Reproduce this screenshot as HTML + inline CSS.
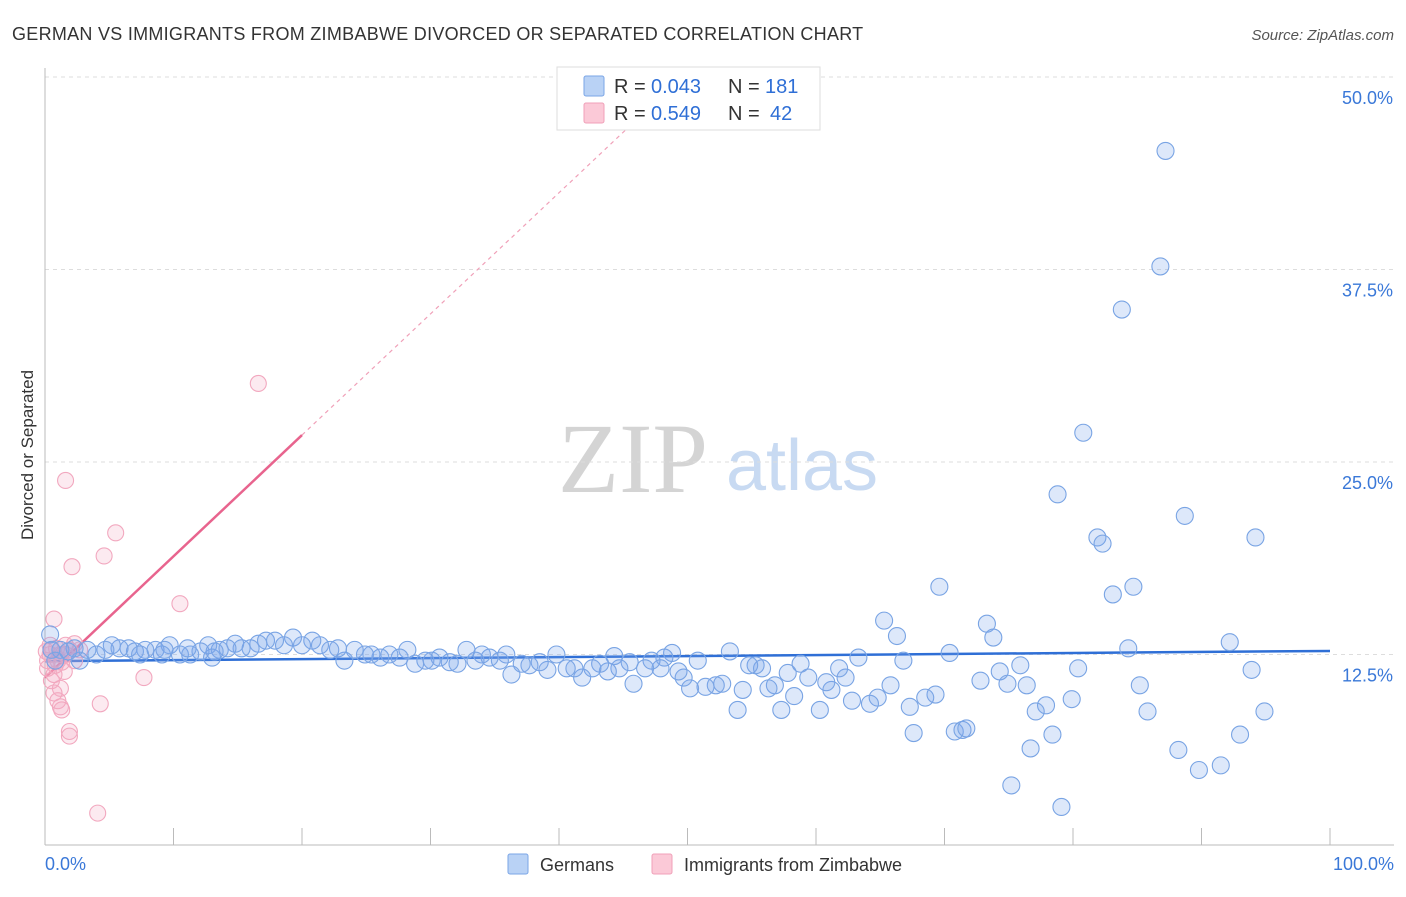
<!DOCTYPE html>
<html><head><meta charset="utf-8"><style>
body{margin:0;background:#fff;font-family:"Liberation Sans",sans-serif;}
</style></head><body>
<svg id="chart" width="1406" height="892" xmlns="http://www.w3.org/2000/svg" font-family="Liberation Sans, sans-serif">
<text x="12" y="40" font-size="18" fill="#333" letter-spacing="0.28">GERMAN VS IMMIGRANTS FROM ZIMBABWE DIVORCED OR SEPARATED CORRELATION CHART</text>
<text x="1394" y="40" font-size="15" fill="#555" text-anchor="end" font-style="italic">Source: ZipAtlas.com</text>
<text transform="translate(33,455) rotate(-90)" font-size="17" fill="#333" text-anchor="middle">Divorced or Separated</text>
<g>
<text x="633" y="492" font-size="100" fill="#d4d4d4" style="font-family:'Liberation Serif',serif" text-anchor="middle">ZIP</text>
<text x="802" y="490" font-size="72" fill="#c8daf2" text-anchor="middle">atlas</text>
</g>
<g id="grid"></g><g id="axes"></g><g id="trends"></g><g id="points"></g>
<g>
<rect x="557" y="67" width="263" height="63" fill="#fff" stroke="#ddd"/>
<rect x="584" y="76" width="20" height="20" fill="#b9d2f5" stroke="#7aa5e6" rx="2"/>
<rect x="584" y="103" width="20" height="20" fill="#fbc9d7" stroke="#f0a0b8" rx="2"/>
<text x="614" y="93" font-size="20" fill="#333">R =</text>
<text x="651" y="93" font-size="20" fill="#2f6fd6">0.043</text>
<text x="728" y="93" font-size="20" fill="#333">N =</text>
<text x="765" y="93" font-size="20" fill="#2f6fd6">181</text>
<text x="614" y="120" font-size="20" fill="#333">R =</text>
<text x="651" y="120" font-size="20" fill="#2f6fd6">0.549</text>
<text x="728" y="120" font-size="20" fill="#333">N =</text>
<text x="770" y="120" font-size="20" fill="#2f6fd6">42</text>
</g>
<g>
<rect x="508" y="854" width="20" height="20" fill="#b9d2f5" stroke="#7aa5e6" rx="2"/>
<text x="540" y="871" font-size="18" fill="#333">Germans</text>
<rect x="652" y="854" width="20" height="20" fill="#fbc9d7" stroke="#f0a0b8" rx="2"/>
<text x="684" y="871" font-size="18" fill="#333">Immigrants from Zimbabwe</text>
</g>
</svg>
<script>
const yTicks=[12.5,25,37.5,50];
const yTickLabels=["12.5%","25.0%","37.5%","50.0%"];
const xTicks=[0,10,20,30,40,50,60,70,80,90,100];
const germansX=[87.2,86.8,83.8,80.8,78.8,88.7,81.9,82.3,94.2,84.7,83.1,69.6,65.3,66.3,73.3,73.8,92.2,84.3,70.4,66.8,63.3,75.9,80.4,93.9,74.3,72.8,74.9,76.4,85.2,79.9,77.9,77.1,85.8,94.9,69.3,68.5,67.3,65.8,64.8,64.2,62.8,67.6,70.8,71.4,71.7,78.4,93.0,76.7,88.2,91.5,89.8,75.2,79.1,61.2,62.3,61.8,60.3,60.8,59.4,58.8,57.8,57.3,56.8,56.3,55.8,55.3,54.8,54.3,53.9,53.3,58.3,52.7,52.2,51.4,50.8,50.2,49.7,49.3,48.8,48.2,47.9,47.2,46.7,45.8,45.5,44.7,44.3,43.8,43.2,42.6,41.8,41.2,40.6,39.8,39.1,38.5,37.7,37.1,36.3,35.9,35.4,34.6,34.0,33.5,32.8,32.1,31.5,30.7,30.1,29.6,28.8,28.2,27.6,26.8,26.1,25.4,24.9,24.1,23.3,22.8,22.2,21.4,20.8,20.0,19.3,18.6,17.9,17.2,16.6,16.0,15.3,14.8,14.2,13.6,13.0,12.7,12.1,11.3,10.5,9.7,9.1,8.6,7.8,7.0,6.5,5.8,5.2,4.7,4.0,3.3,2.7,2.3,1.8,1.2,0.4,0.5,0.8,7.4,9.3,13.2,11.1];
const germansY=[45.2,37.7,34.9,26.9,22.9,21.5,20.1,19.7,20.1,16.9,16.4,16.9,14.7,13.7,14.5,13.6,13.3,12.9,12.6,12.1,12.3,11.8,11.6,11.5,11.4,10.8,10.6,10.5,10.5,9.6,9.2,8.8,8.8,8.8,9.9,9.7,9.1,10.5,9.7,9.3,9.5,7.4,7.5,7.6,7.7,7.3,7.3,6.4,6.3,5.3,5.0,4.0,2.6,10.2,11.0,11.6,8.9,10.7,11.0,11.9,11.3,8.9,10.5,10.3,11.6,11.8,11.8,10.2,8.9,12.7,9.8,10.6,10.5,10.4,12.1,10.3,11.0,11.4,12.6,12.3,11.6,12.1,11.6,10.6,12.0,11.6,12.4,11.4,11.9,11.6,11.0,11.6,11.6,12.5,11.5,12.0,11.8,11.9,11.2,12.5,12.1,12.3,12.5,12.1,12.8,11.9,12.0,12.3,12.1,12.1,11.9,12.8,12.3,12.5,12.3,12.5,12.5,12.8,12.1,12.9,12.8,13.1,13.4,13.1,13.6,13.1,13.4,13.4,13.2,12.9,12.9,13.2,12.9,12.8,12.3,13.1,12.7,12.5,12.5,13.1,12.5,12.8,12.8,12.7,12.9,12.9,13.1,12.8,12.5,12.8,12.1,12.9,12.7,12.8,13.8,12.8,12.1,12.5,12.8,12.7,12.9];
const zimX=[16.6,1.6,5.5,4.6,2.1,10.5,0.7,7.7,4.3,1.9,1.9,4.1,1.2,0.7,1.0,1.2,1.3,0.5,1.5,0.8,0.2,0.4,0.5,0.9,1.2,1.6,1.9,2.3,0.2,1.0,1.3,1.6,2.3,0.7,0.4,2.7,0.1];
const zimY=[30.1,23.8,20.4,18.9,18.2,15.8,14.8,11.0,9.3,7.5,7.2,2.2,10.3,10.0,9.5,9.1,8.9,10.8,11.4,11.8,12.1,12.5,12.8,12.9,12.5,13.1,12.8,12.1,11.6,12.1,12.0,12.5,13.2,11.2,13.1,12.8,12.7];
const germanTrendX=[0,100], germanTrendY=[12.07,12.73];
const zimTrendX=[0,20], zimTrendY=[11.0,26.75];
const zimDashX=[20,46], zimDashY=[26.75,47.2];

const NS="http://www.w3.org/2000/svg";
const xs=v=>45+v*12.85, ys=v=>847-v*15.4;
function mk(tag,attrs,parent){const e=document.createElementNS(NS,tag);for(const k in attrs)e.setAttribute(k,attrs[k]);document.getElementById(parent).appendChild(e);return e;}
yTicks.forEach((t,i)=>{
 const l=mk('line',{x1:45,x2:1394,y1:ys(t),y2:ys(t),stroke:'#ddd','stroke-dasharray':'4,4'},'grid');
 
 
 const tx=mk('text',{x:1393,y:ys(t)+27,'font-size':18,fill:'#3a78d8','text-anchor':'end'},'grid');
 tx.textContent=yTickLabels[i];
 
 
});
const ax=mk('line',{x1:45,x2:1394,y1:845,y2:845,stroke:'#bbb'},'axes');


const ay=mk('line',{x1:45,x2:45,y1:68,y2:845,stroke:'#bbb'},'axes');


xTicks.forEach(t=>{
 const l=mk('line',{x1:xs(t),x2:xs(t),y1:828,y2:845,stroke:'#bbb'},'axes');
 
 
});
[[0,'0.0%','start',45],[100,'100.0%','end',1394]].forEach(a=>{
 const t=mk('text',{x:a[3],y:870,'font-size':18,fill:'#3a78d8','text-anchor':a[2]},'axes');
 t.textContent=a[1];
 
 
});
zimX.forEach((x,i)=>{
 const c=mk('circle',{cx:xs(x),cy:ys(zimY[i]),r:8,fill:'rgba(245,170,195,0.25)',stroke:'#f2a8bf','stroke-width':1.1},'points');
 
 
});
germansX.forEach((x,i)=>{
 const c=mk('circle',{cx:xs(x),cy:ys(germansY[i]),r:8.5,fill:'rgba(120,165,235,0.25)',stroke:'#79a4e4','stroke-width':1.1},'points');
 
 
});
const t1=mk('line',{x1:xs(germanTrendX[0]),y1:ys(germanTrendY[0]),x2:xs(germanTrendX[1]),y2:ys(germanTrendY[1]),stroke:'#2f6fd6','stroke-width':2.5},'trends');


const t2=mk('line',{x1:xs(zimTrendX[0]),y1:ys(zimTrendY[0]),x2:xs(zimTrendX[1]),y2:ys(zimTrendY[1]),stroke:'#e8648e','stroke-width':2.5},'trends');


const t3=mk('line',{x1:xs(zimDashX[0]),y1:ys(zimDashY[0]),x2:xs(zimDashX[1]),y2:ys(zimDashY[1]),stroke:'#f0a0b8','stroke-width':1.2,'stroke-dasharray':'4,4'},'trends');


</script>
</body></html>
